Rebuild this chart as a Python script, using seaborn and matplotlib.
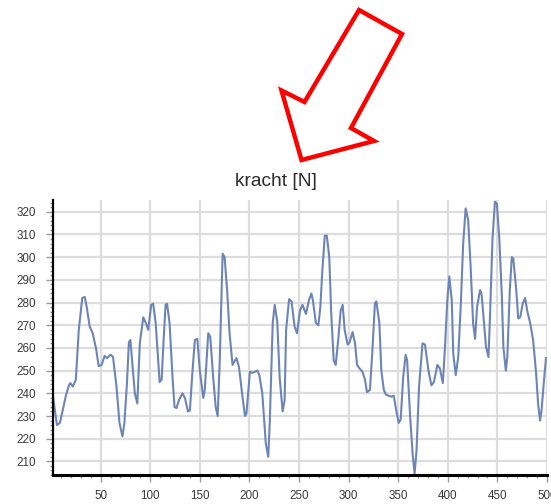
import numpy as np
import matplotlib
matplotlib.use("Agg")
import matplotlib.pyplot as plt
from matplotlib.patches import Polygon
from matplotlib.ticker import MultipleLocator
import pandas as pd
import seaborn as sn

# kracht over samples (peaks and valleys), in four stretches
sample_a = [2, 6, 9, 15, 18, 19.5, 22, 25, 28, 31.5, 34, 36, 39, 42, 45.5, 48, 51, 54, 56.5, 60,
            62.5, 66, 69, 72, 74, 76.5, 78.5, 80, 82, 84.5, 87]
kracht_a = [238.5, 226, 227, 239, 243.5, 244.5, 243, 246, 268, 282, 282.5, 278, 269.5, 266.5, 259.5,
            252, 252.5, 256.5, 255.5, 257, 256, 243, 227, 221, 227, 244, 262.5, 263.5, 253, 240, 235.5]

sample_b = [89.5, 93, 96, 98, 101, 103, 105.5, 108, 109.5, 111.5, 113.5, 115.5, 117, 119.5, 122.5,
            124.5, 126.5, 129, 132.5, 135, 138, 140, 142.5, 145, 147.5, 150, 153.5, 155, 158.5, 160.5,
            163.5, 166, 168, 170, 173, 175, 177.5, 180, 183, 185.5, 187, 189.5, 193, 195.5, 197,
            200.5, 203, 205.5, 208, 210, 213, 216.5, 219, 220.5, 223.5, 225.5, 228, 230.5, 233.5,
            235.5, 237]
kracht_b = [262, 273.5, 270.5, 268, 279, 279.5, 271, 254.5, 245, 246, 263.5, 279, 279.5, 271, 247,
            234, 233.5, 237, 240, 238, 232, 232.5, 249, 263.5, 264, 250, 238, 241.5, 266.5, 265,
            247, 234, 230, 253, 301.5, 300, 285.5, 266.5, 252.5, 254.5, 255.5, 251.5, 238.5, 230, 231,
            249.5, 249, 249.5, 250, 248, 240, 218, 212, 227, 271, 279, 272, 247, 232,
            237, 268]

sample_c = [240, 242.5, 245.5, 248, 251, 253.5, 257, 260, 262.5, 264, 267, 269.5, 271.5, 273.5, 276,
            278, 280.5, 282.5, 285, 287, 289.5, 292, 294, 296, 299, 301, 304, 306.5, 308.5, 311,
            314, 316.5, 318.5, 321.5, 324, 326.5, 328, 331, 333, 335.5, 337.5, 340, 343, 345.5, 348,
            350.5, 352.5, 355, 357.5, 359, 362, 364.5, 366.5, 368.5, 371, 374.5, 377, 380.5]
kracht_c = [281.5, 280.5, 269.5, 266.5, 276.5, 279, 275, 281, 284, 281, 271, 270, 278, 294, 309.5,
            309.5, 300, 275, 254.5, 252.5, 263.5, 276.5, 279, 268, 261.5, 262.5, 267, 262, 252.5, 251,
            249.5, 246, 240.5, 241.5, 259, 279.5, 280.5, 271, 250, 241.5, 239.5, 239, 238.5, 239, 232.5,
            227, 228.5, 247, 257, 254.5, 230, 213.5, 204.5, 215, 243, 262, 261.5, 250]

sample_d = [383.5, 386, 389.5, 392, 395, 397, 399.5, 401.5, 404, 405.5, 408, 410.5, 413, 415.5, 418,
            420.5, 423, 425.5, 427.5, 429.5, 432.5, 434, 436.5, 438.5, 441, 442.5, 445, 447.5, 449.5, 452,
            454.5, 456, 458.5, 460, 462.5, 464.5, 466, 469, 471, 473, 475.5, 478, 480, 483, 486,
            489, 491, 493, 494.5, 497, 499]
kracht_d = [243.5, 245, 252.5, 251, 244.5, 259, 281, 291.5, 281, 257.5, 248, 256, 278, 306, 321.5,
            316.5, 296, 271, 264, 278, 285.5, 284, 271, 260.5, 256, 273.5, 307.5, 324.5, 323.5, 307.5,
            282.5, 260.5, 250, 256, 285.5, 300, 299.5, 285.5, 273, 273.5, 279.5, 282, 276.5, 271, 263.5,
            249, 235.5, 228, 232.5, 246, 255.5]

df = pd.DataFrame({"sample": sample_a + sample_b + sample_c + sample_d,
                   "kracht": kracht_a + kracht_b + kracht_c + kracht_d})

plt.rcParams["font.family"] = ["Liberation Sans", "DejaVu Sans"]

fig = plt.figure(figsize=(5.51, 5.04), dpi=100)
ax = fig.add_axes([53 / 551, 29 / 504, 494 / 551, 275 / 504])

# gridlines first so the line sits on top
ax.set_axisbelow(True)
ax.grid(True, which="major", color="#dddddd", linewidth=1.6)

sn.lineplot(data=df, x="sample", y="kracht", ax=ax, color="#6d85b5",
            linewidth=1.5, solid_joinstyle="round")

ax.set_xlim(2, 500)
ax.set_ylim(204, 325.2)
ax.set_xlabel("")
ax.set_ylabel("")

ax.xaxis.set_major_locator(MultipleLocator(50))
ax.xaxis.set_minor_locator(MultipleLocator(10))
ax.yaxis.set_minor_locator(MultipleLocator(2))
ax.set_yticks(np.arange(210, 321, 10))

ax.tick_params(axis="both", which="major", length=5, width=1, color="#999999",
               labelsize=8.4, labelcolor="#3a3a3a")
ax.tick_params(axis="both", which="minor", length=2.5, width=1, color="#999999")
ax.tick_params(axis="x", which="major", pad=5.5)
ax.tick_params(axis="y", which="major", pad=7.5)

for side in ["top", "right"]:
    ax.spines[side].set_visible(False)
ax.spines["left"].set_linewidth(1.6)
ax.spines["bottom"].set_linewidth(2.2)
ax.spines["left"].set_color("black")
ax.spines["bottom"].set_color("black")

# title, centred on the figure
fig.text(276 / 551, 1 - 181 / 504, "kracht [N]", ha="center", va="center",
         fontsize=13.8, color="#2a2a2a")

# red outlined arrow pointing at the title
arrow_px = [(359, 10), (402, 34), (351, 128), (374, 141), (301.5, 160), (281.5, 90.5), (304.5, 102)]
arrow = Polygon([(px / 551, 1 - py / 504) for px, py in arrow_px], closed=True,
                fill=False, edgecolor="#ff0000", linewidth=3.2, joinstyle="miter",
                transform=fig.transFigure)
fig.patches.append(arrow)

fig.savefig("out.png", dpi=100)
